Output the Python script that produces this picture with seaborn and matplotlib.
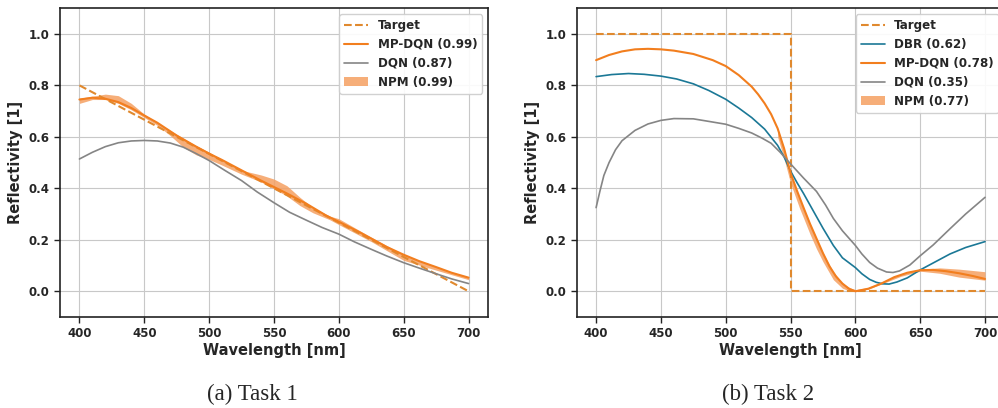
import numpy as np
import pandas as pd
import matplotlib
matplotlib.use("Agg")
import matplotlib.pyplot as plt
import seaborn as sns

# ---- Task 1 data ----
t1_target_x = [400, 700]
t1_target_y = [0.80, 0.0]

t1_mp_x = [400, 410, 420, 430, 440, 450, 460, 475, 490, 500, 510, 525, 540, 550,
           560, 575, 590, 600, 615, 625, 637, 650, 662, 675, 687, 700]
t1_mp_y = [0.745, 0.752, 0.748, 0.735, 0.712, 0.683, 0.655, 0.605, 0.562, 0.535, 0.51,
           0.47, 0.43, 0.405, 0.38, 0.34, 0.295, 0.27, 0.232, 0.205, 0.172, 0.142, 0.117,
           0.094, 0.072, 0.053]

t1_dqn_x = [400, 410, 420, 430, 440, 450, 460, 470, 480, 490, 500, 512, 525, 537, 550,
            562, 575, 587, 600, 612, 625, 637, 650, 662, 675, 687, 700]
t1_dqn_y = [0.514, 0.54, 0.562, 0.577, 0.584, 0.586, 0.584, 0.576, 0.56, 0.535, 0.508,
            0.47, 0.43, 0.386, 0.344, 0.307, 0.276, 0.248, 0.222, 0.192, 0.163, 0.137,
            0.111, 0.09, 0.068, 0.048, 0.03]

t1_npm_x = [400, 410, 420, 430, 440, 450, 460, 470, 480, 490, 500, 510, 525, 540, 550,
            560, 570, 580, 593, 600, 625, 650, 675, 700]
t1_npm_lo = [0.73, 0.745, 0.745, 0.73, 0.705, 0.675, 0.645, 0.605, 0.56, 0.53, 0.512, 0.49,
             0.455, 0.425, 0.398, 0.37, 0.333, 0.305, 0.278, 0.259, 0.193, 0.12, 0.082, 0.045]
t1_npm_hi = [0.75, 0.758, 0.766, 0.76, 0.73, 0.688, 0.655, 0.625, 0.595, 0.565, 0.54, 0.51,
             0.47, 0.452, 0.436, 0.41, 0.365, 0.325, 0.292, 0.282, 0.21, 0.142, 0.094, 0.053]

# ---- Task 2 data ----
t2_target_x = [400, 550, 550, 700]
t2_target_y = [1.0, 1.0, 0.0, 0.0]

t2_dbr_x = [400, 412, 425, 437, 450, 462, 475, 487, 500, 510, 520, 530, 540, 545, 550,
            555, 560, 565, 570, 575, 583, 590, 600, 605, 611, 616, 621, 626, 632, 640,
            650, 660, 673, 685, 700]
t2_dbr_y = [0.834, 0.842, 0.846, 0.843, 0.836, 0.825, 0.806, 0.78, 0.746, 0.712, 0.675,
            0.63, 0.567, 0.522, 0.467, 0.422, 0.38, 0.335, 0.29, 0.245, 0.178, 0.13,
            0.092, 0.068, 0.046, 0.035, 0.029, 0.028, 0.036, 0.052, 0.083, 0.11, 0.145,
            0.17, 0.193]

t2_mp_x = [400, 410, 420, 430, 440, 450, 460, 475, 490, 500, 510, 520, 525, 530, 535,
           540, 545, 550, 555, 560, 565, 570, 575, 580, 585, 590, 595, 600, 610, 620,
           630, 640, 650, 660, 670, 680, 690, 700]
t2_mp_y = [0.898, 0.918, 0.932, 0.94, 0.942, 0.94, 0.935, 0.922, 0.898, 0.875, 0.84, 0.795,
           0.765, 0.73, 0.688, 0.633, 0.555, 0.46, 0.39, 0.325, 0.262, 0.205, 0.148, 0.097,
           0.058, 0.03, 0.01, 0.0, 0.01, 0.03, 0.055, 0.072, 0.082, 0.083, 0.078, 0.07,
           0.06, 0.048]

t2_dqn_x = [400, 403, 406, 410, 415, 420, 425, 430, 440, 450, 460, 475, 487, 500, 510,
            520, 528, 535, 542, 550, 560, 570, 577, 583, 590, 600, 605, 611, 617, 624,
            629, 634, 642, 650, 660, 673, 685, 700]
t2_dqn_y = [0.325, 0.39, 0.45, 0.5, 0.55, 0.585, 0.605, 0.625, 0.65, 0.664, 0.671, 0.67,
            0.66, 0.649, 0.633, 0.615, 0.595, 0.575, 0.54, 0.495, 0.44, 0.388, 0.335,
            0.283, 0.235, 0.178, 0.145, 0.112, 0.09, 0.075, 0.073, 0.079, 0.102, 0.138,
            0.18, 0.243, 0.3, 0.365]

t2_npm_x = [540, 545, 550, 557, 560, 565, 570, 575, 583, 590, 596, 600, 610, 620, 635,
            650, 665, 680, 700]
t2_npm_lo = [0.6, 0.515, 0.42, 0.322, 0.285, 0.222, 0.165, 0.115, 0.045, 0.012, 0.0, 0.0,
             0.008, 0.028, 0.058, 0.078, 0.07, 0.055, 0.043]
t2_npm_hi = [0.635, 0.556, 0.46, 0.358, 0.326, 0.264, 0.206, 0.15, 0.076, 0.032, 0.013,
             0.006, 0.015, 0.036, 0.066, 0.086, 0.091, 0.086, 0.076]

C_TARGET = "#e0892e"
C_MP = "#f27e1e"
C_NPM = "#f5a062"
C_DQN = "#858585"
C_DBR = "#1b7896"

sns.set_style("ticks", {"axes.grid": True, "grid.color": "#c8c8c8", "axes.edgecolor": "#222222"})
plt.rcParams["font.family"] = ["DejaVu Sans"]
plt.rcParams["font.weight"] = "bold"
plt.rcParams["axes.labelweight"] = "bold"

fig = plt.figure(figsize=(9.98, 4.08), dpi=100)
ax1 = fig.add_axes([0.0601, 0.223, 0.4289, 0.757])
ax2 = fig.add_axes([0.5778, 0.223, 0.4287, 0.757])

# Task 1
sns.lineplot(x=t1_target_x, y=t1_target_y, ax=ax1, color=C_TARGET, linestyle="--",
             linewidth=1.5, label="Target", estimator=None, sort=False)
sns.lineplot(x=t1_mp_x, y=t1_mp_y, ax=ax1, color=C_MP, linewidth=1.5,
             label="MP-DQN (0.99)", estimator=None)
sns.lineplot(x=t1_dqn_x, y=t1_dqn_y, ax=ax1, color=C_DQN, linewidth=1.2,
             label="DQN (0.87)", estimator=None)
ax1.fill_between(t1_npm_x, t1_npm_lo, t1_npm_hi, color=C_NPM, alpha=0.85,
                 linewidth=0, label="NPM (0.99)")

# Task 2
sns.lineplot(x=t2_target_x, y=t2_target_y, ax=ax2, color=C_TARGET, linestyle="--",
             linewidth=1.5, label="Target", estimator=None, sort=False)
sns.lineplot(x=t2_dbr_x, y=t2_dbr_y, ax=ax2, color=C_DBR, linewidth=1.2,
             label="DBR (0.62)", estimator=None)
sns.lineplot(x=t2_mp_x, y=t2_mp_y, ax=ax2, color=C_MP, linewidth=1.5,
             label="MP-DQN (0.78)", estimator=None)
sns.lineplot(x=t2_dqn_x, y=t2_dqn_y, ax=ax2, color=C_DQN, linewidth=1.2,
             label="DQN (0.35)", estimator=None)
ax2.fill_between(t2_npm_x, t2_npm_lo, t2_npm_hi, color=C_NPM, alpha=0.85,
                 linewidth=0, label="NPM (0.77)")

for ax in (ax1, ax2):
    ax.set_xlim(385, 715)
    ax.set_ylim(-0.1, 1.1)
    ax.set_xticks([400, 450, 500, 550, 600, 650, 700])
    ax.set_yticks([0.0, 0.2, 0.4, 0.6, 0.8, 1.0])
    ax.tick_params(labelsize=8.5, width=1, length=4, color="#222222")
    for lab in ax.get_xticklabels() + ax.get_yticklabels():
        lab.set_fontweight("bold")
    ax.set_xlabel("Wavelength [nm]", fontsize=10.5, fontweight="bold", labelpad=2)
    ax.set_ylabel("Reflectivity [1]", fontsize=10.5, fontweight="bold")
    ax.legend(loc="upper right", prop={"size": 8.6, "weight": "bold"}, framealpha=0.9)
    for s in ax.spines.values():
        s.set_linewidth(1.2)

fig.text(0.253, 0.034, "(a) Task 1", family="Liberation Serif", fontsize=16.5,
         ha="center", va="center", fontweight="normal")
fig.text(0.770, 0.034, "(b) Task 2", family="Liberation Serif", fontsize=16.5,
         ha="center", va="center", fontweight="normal")

fig.savefig("out.png", dpi=100, facecolor="white")
